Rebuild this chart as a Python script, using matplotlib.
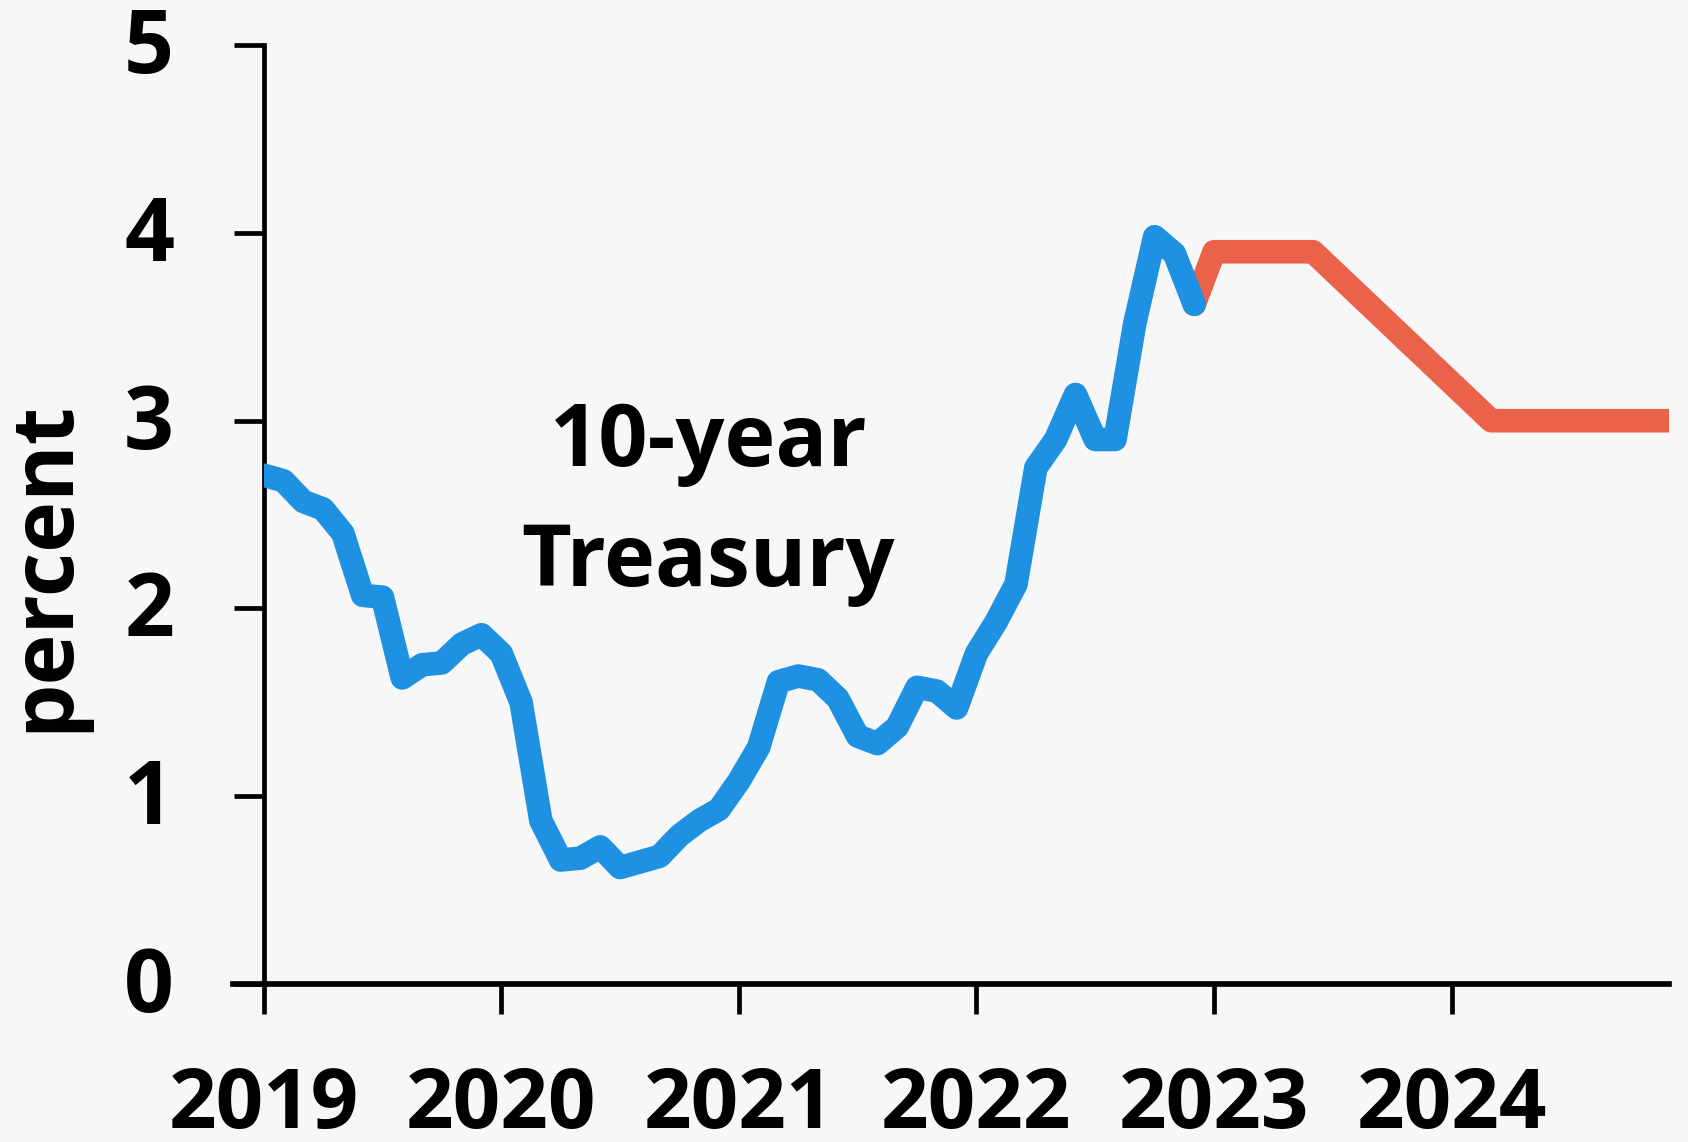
import matplotlib
matplotlib.use('Agg')
import matplotlib.pyplot as plt
import matplotlib.transforms as mtransforms
import numpy as np

# 10-year Treasury, monthly, Jan 2019 - Dec 2022
hist_vals = [2.71, 2.68, 2.57, 2.53, 2.40, 2.07, 2.06, 1.63, 1.70, 1.71, 1.81, 1.86,
             1.76, 1.50, 0.87, 0.66, 0.67, 0.73, 0.62, 0.65, 0.68, 0.79, 0.87, 0.93,
             1.08, 1.26, 1.61, 1.64, 1.62, 1.52, 1.32, 1.28, 1.37, 1.58, 1.56, 1.47,
             1.76, 1.93, 2.13, 2.75, 2.90, 3.14, 2.90, 2.90, 3.52, 3.98, 3.89, 3.62]
hist_months = list(range(len(hist_vals)))  # months since Jan 2019

# projection (months since Jan 2019)
proj_months = [47, 48, 53, 62, 71]
proj_vals = [3.62, 3.90, 3.90, 3.00, 3.00]

year_ticks = [2019, 2020, 2021, 2022, 2023, 2024]
y_ticks = [0, 1, 2, 3, 4, 5]

blue = '#1f91e3'
red = '#eb624a'
bg = '#f7f7f7'

plt.rcParams['font.family'] = ['Open Sans', 'DejaVu Sans']
plt.rcParams['font.weight'] = 'bold'

fig = plt.figure(figsize=(16.88, 11.42), dpi=100, facecolor=bg)
ax = fig.add_axes([0.1562, 0.1384, 0.989 - 0.1562, 0.9604 - 0.1384])
ax.set_facecolor(bg)

hx = 2019 + np.array(hist_months) / 12
px = 2019 + np.array(proj_months) / 12
ax.plot(px, proj_vals, color=red, lw=17, solid_joinstyle='round', solid_capstyle='round', zorder=3)
ax.plot(hx, hist_vals, color=blue, lw=17, solid_joinstyle='round', solid_capstyle='round', zorder=4)

ax.set_xlim(2019, 2019 + 71 / 12)
ax.set_ylim(0, 5)

for s in ['top', 'right', 'bottom']:
    ax.spines[s].set_visible(False)
ax.spines['left'].set_linewidth(3.4)
ax.axhline(0, xmin=-0.0215, xmax=1, color='black', lw=4.1, clip_on=False, zorder=5)

ax.set_xticks(year_ticks)
ax.set_xticklabels([str(y) for y in year_ticks])
ax.set_yticks(y_ticks)
ax.tick_params(axis='both', length=21.5, width=3.4, direction='out')
ax.tick_params(axis='y', pad=43, labelsize=63)
ax.tick_params(axis='x', pad=37, labelsize=60)
for lab in ax.get_xticklabels() + ax.get_yticklabels():
    lab.set_fontweight('bold')

# nudge y tick labels up a little
up = mtransforms.ScaledTranslation(0, 4 / 72, fig.dpi_scale_trans)
for t in ax.yaxis.get_major_ticks():
    t.label1.set_transform(t.label1.get_transform() + up)

fig.text(0.0264, 0.5047, 'percent', rotation=90, ha='center', va='center',
         fontsize=62, fontweight='bold')
ax.text(2020.871, 2.56, '10-year\nTreasury', ha='center', va='center',
        fontsize=62, fontweight='bold', linespacing=1.5)

fig.savefig('out.png', dpi=100, facecolor=bg)
